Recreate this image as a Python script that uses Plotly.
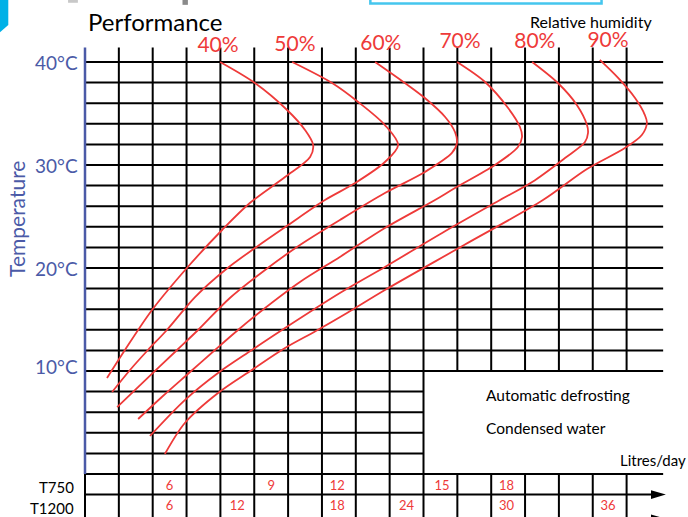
import plotly.graph_objects as go

# x = grid column (0 = temperature axis), t = temperature in degC
RH_NAMES = ["40%", "50%", "60%", "70%", "80%", "90%"]

RH40_X = [3.99, 5.02, 5.97, 6.50, 6.74, 6.65, 5.91, 4.87, 4.05, 3.01, 1.98, 1.18, 0.65]
RH40_T = [40.0, 37.96, 35.34, 33.40, 31.94, 30.78, 28.83, 26.31, 23.69, 20.0, 15.92, 12.04, 9.32]

RH50_X = [6.12, 7.30, 8.07, 8.86, 9.25, 8.86, 7.98, 7.09, 6.00, 5.02, 4.14, 3.25, 2.42, 1.86, 1.33, 0.80]
RH50_T = [40.0, 37.96, 36.12, 33.88, 31.94, 30.29, 28.25, 26.60, 24.17, 21.94, 19.81, 17.18, 13.98, 12.04, 10.10, 7.96]

RH60_X = [8.57, 9.45, 10.04, 10.64, 10.93, 10.99, 10.84, 10.04, 8.86, 7.53, 6.35, 5.32, 4.28, 3.34, 2.72, 2.10, 0.95]
RH60_T = [40.0, 37.96, 36.50, 34.66, 33.20, 32.14, 31.17, 29.32, 27.28, 24.66, 22.23, 19.81, 17.09, 13.98, 12.04, 10.10, 6.50]

RH70_X = [10.99, 11.82, 12.50, 12.85, 12.91, 12.79, 12.11, 10.93, 10.34, 8.86, 7.53, 6.35, 5.17, 4.52, 3.84, 3.07, 2.27, 1.57]
RH70_T = [40.0, 38.06, 35.53, 33.69, 32.72, 31.75, 30.0, 27.77, 26.60, 23.88, 21.07, 18.64, 15.73, 13.98, 12.04, 9.81, 7.48, 5.34]

RH80_X = [13.21, 13.97, 14.53, 14.83, 14.86, 14.77, 14.18, 13.21, 12.26, 10.55, 8.86, 7.53, 5.82, 4.93, 3.93, 2.95, 1.92]
RH80_T = [40.0, 37.96, 35.83, 33.88, 33.11, 32.23, 30.68, 28.35, 26.60, 23.40, 20.10, 17.57, 13.98, 12.04, 9.81, 7.18, 3.69]

RH90_X = [15.21, 15.75, 16.25, 16.54, 16.60, 16.45, 15.95, 14.83, 13.53, 11.20, 8.86, 7.74, 6.82, 5.91, 4.93, 3.93, 2.95, 2.36]
RH90_T = [40.2, 38.45, 36.50, 34.85, 34.08, 32.91, 31.65, 29.61, 26.60, 22.23, 17.86, 15.63, 13.88, 12.23, 10.10, 7.86, 4.95, 1.94]

RH_LABEL_X = [3.93, 6.20, 8.74, 11.08, 13.29, 15.45]
RH_LABEL_T = [41.45, 41.6, 41.7, 41.85, 41.85, 42.0]

TEMP_TICKS = [40, 30, 20, 10]
TEMP_LABELS = ["40°C", "30°C", "20°C", "10°C"]

# litres/day per model, placed in grid columns
T750_LITRES = [6, 9, 12, 15, 18]
T750_COLS = [2.5, 5.5, 7.45, 10.55, 12.45]
T1200_LITRES = [6, 12, 18, 24, 30, 36]
T1200_COLS = [2.5, 4.5, 7.45, 9.5, 12.45, 15.45]

# grid
LONG_ROWS = [40, 38, 36, 34, 32, 30, 28, 26, 24, 22, 20, 18, 16, 14, 12, 10, 0]
SHORT_ROWS = [8, 6, 4, 2]
FULL_COLS = [1, 2, 3, 4, 5, 6, 7, 8, 9, 10]
CUT_COLS = [11, 12, 13, 14, 15, 16]

RED = "#ee3a39"
BLUE = "#4b5aa7"
FONT = "Lato"

fig = go.Figure()

curves = [(RH40_X, RH40_T), (RH50_X, RH50_T), (RH60_X, RH60_T),
          (RH70_X, RH70_T), (RH80_X, RH80_T), (RH90_X, RH90_T)]
for name, (cx, ct) in zip(RH_NAMES, curves):
    fig.add_trace(go.Scatter(
        x=cx, y=ct, mode="lines", name=name,
        line=dict(color=RED, width=1.8, shape="spline", smoothing=0.9),
        hoverinfo="skip"
    ))

# humidity labels
fig.add_trace(go.Scatter(
    x=RH_LABEL_X, y=RH_LABEL_T, mode="text", text=RH_NAMES,
    textfont=dict(family=FONT, size=21, color=RED), hoverinfo="skip"
))

# litres labels
fig.add_trace(go.Scatter(
    x=T750_COLS, y=[-1.2] * len(T750_COLS), mode="text",
    text=[str(v) for v in T750_LITRES],
    textfont=dict(family=FONT, size=13, color=RED), hoverinfo="skip"
))
fig.add_trace(go.Scatter(
    x=T1200_COLS, y=[-3.2] * len(T1200_COLS), mode="text",
    text=[str(v) for v in T1200_LITRES],
    textfont=dict(family=FONT, size=13, color=RED), hoverinfo="skip"
))

shapes = []
def hline(t, x0, x1, color="black", width=2):
    shapes.append(dict(type="line", x0=x0, x1=x1, y0=t, y1=t, layer="below",
                       line=dict(color=color, width=width)))

def vline(c, y0, y1, color="black", width=2):
    shapes.append(dict(type="line", x0=c, x1=c, y0=y0, y1=y1, layer="below",
                       line=dict(color=color, width=width)))

for t in LONG_ROWS:
    hline(t, 0, 17.08)
for t in SHORT_ROWS:
    hline(t, 0, 10)
hline(-2, 0, 16.8)
hline(-4.35, 0, 16.8)

for c in FULL_COLS:
    vline(c, -4.8, 41.4)
for c in CUT_COLS:
    vline(c, 10, 41.4)
    vline(c, -4.8, 0)
vline(0, -4.8, 0)
vline(0, 0, 41.4, color=BLUE, width=2.5)

# arrow heads
for t in [-2, -4.35]:
    shapes.append(dict(type="path", layer="below",
                       path=f"M 16.72,{t + 0.42} L 17.16,{t} L 16.72,{t - 0.42} Z",
                       fillcolor="black", line=dict(width=0)))

# page decorations cut by the crop
shapes.append(dict(type="path", path="M -2.6,46.2 L -2.266,46.2 L -2.266,43.59 L -2.6,42.62 Z",
                   fillcolor="#00b1e7", line=dict(width=0)))
shapes.append(dict(type="rect", x0=8.43, x1=15.26, y0=45.67, y1=47.5,
                   line=dict(color="#45c6ee", width=2.5)))
shapes.append(dict(type="rect", x0=-0.5, x1=-0.21, y0=45.75, y1=46.2,
                   fillcolor="#c8c8c8", line=dict(width=0)))
shapes.append(dict(type="rect", x0=2.88, x1=3.04, y0=45.55, y1=46.2,
                   fillcolor="#8a8a8a", line=dict(width=0)))

annotations = []
for t, lab in zip(TEMP_TICKS, TEMP_LABELS):
    annotations.append(dict(x=-0.15, y=t + (0.4 if t == 10 else 0), text=lab,
                            xanchor="right", yanchor="middle", showarrow=False,
                            font=dict(family=FONT, size=19, color=BLUE)))

annotations += [
    dict(x=-2.01, y=24.76, text="Temperature", textangle=-90, showarrow=False,
         xanchor="center", yanchor="middle", font=dict(family=FONT, size=21, color=BLUE)),
    dict(x=0.02, y=43.95, text="Performance", showarrow=False, xanchor="left",
         yanchor="middle", font=dict(family=FONT, size=24, color="black")),
    dict(x=14.95, y=43.9, text="Relative humidity", showarrow=False, xanchor="center",
         yanchor="middle", font=dict(family=FONT, size=16, color="black")),
    dict(x=11.79, y=7.67, text="Automatic defrosting", showarrow=False, xanchor="left",
         yanchor="middle", font=dict(family=FONT, size=15.5, color="black")),
    dict(x=11.79, y=4.47, text="Condensed water", showarrow=False, xanchor="left",
         yanchor="middle", font=dict(family=FONT, size=15.5, color="black")),
    dict(x=15.75, y=1.36, text="Litres/day", showarrow=False, xanchor="left",
         yanchor="middle", font=dict(family=FONT, size=15, color="black")),
    dict(x=-0.27, y=-1.26, text="T750", showarrow=False, xanchor="right",
         yanchor="middle", font=dict(family=FONT, size=15, color="black")),
    dict(x=-0.27, y=-3.3, text="T1200", showarrow=False, xanchor="right",
         yanchor="middle", font=dict(family=FONT, size=15, color="black")),
]

fig.update_layout(
    width=688, height=517,
    margin=dict(l=0, r=0, t=0, b=0),
    plot_bgcolor="white", paper_bgcolor="white",
    showlegend=False,
    shapes=shapes,
    annotations=annotations,
    xaxis=dict(range=[-2.511, 17.814], visible=False, fixedrange=True),
    yaxis=dict(range=[-4.175, 46.02], visible=False, fixedrange=True),
)

# the page body has a default margin; remove it so the chart sits at the corner
fig.write_html("out.html", config={"displayModeBar": False},
               post_script="document.body.style.margin='0';")
